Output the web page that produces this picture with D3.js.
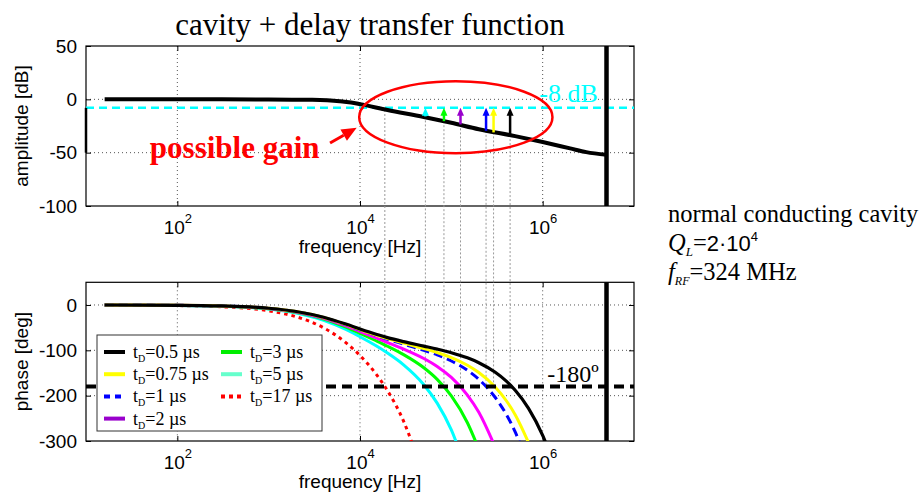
<!DOCTYPE html>
<html>
<head>
<meta charset="utf-8">
<script src="https://cdn.jsdelivr.net/npm/d3@7"></script>
<style>
  body { margin: 0; background: #fff; }
  svg { display: block; }
</style>
</head>
<body>
<svg id="chart" width="922" height="492"></svg>
<script>
// ---- data ----
var freqTicks = [1e2, 1e4, 1e6];
var ampTicks = [50, 0, -50, -100];
var phaseTicks = [0, -100, -200, -300];

// cavity amplitude response [Hz] -> [dB]
var ampFreq = [16, 100, 1000, 3000, 6000, 8000, 1e4, 2e4, 5e4, 1e5, 2e5, 5e5, 1e6, 2e6, 3e6, 5e6];
var ampDb   = [0, 0, -0.1, -0.5, -1.8, -3, -4.5, -10, -16.5, -22, -28, -34.5, -40, -46, -49.5, -52];

// phase of cavity + delay [Hz] -> [deg]
var phaseFreq = [16, 100, 300, 1e3, 2e3, 4e3, 7e3, 1e4, 1.5e4, 2e4, 3e4, 5e4, 7e4, 1e5, 1.5e5, 2e5, 3e5, 4e5, 5e5, 7e5, 1e6, 1.2e6];
var phase05  = [-0.1, -0.7, -2.2, -7.2, -14.3, -27.1, -42.2, -53, -64.6, -72, -80.8, -90.7, -97.3, -105.2, -116.6, -127.3, -147.9, -168, -188.1, -227.9, -287.5, -327.2];
var phase075 = [-0.1, -0.7, -2.2, -7.3, -14.5, -27.5, -42.9, -54.1, -66.2, -74.1, -84.1, -96.1, -104.8, -116, -132.8, -148.9, -180.3, -211.2, -242.1, -303.5];
var phase1   = [-0.1, -0.7, -2.2, -7.4, -14.7, -27.8, -43.5, -54.8, -67.3, -75.6, -86.3, -99.9, -110.1, -123.6, -144.1, -164, -203, -241.4, -279.9, -356.4];
var phase2   = [-0.1, -0.8, -2.3, -7.7, -15.4, -29.3, -46, -58.5, -72.8, -82.9, -97.3, -118.1, -135.6, -159.9, -198.7, -236.7, -312];
var phase3   = [-0.1, -0.8, -2.5, -8.2, -16.2, -30.9, -48.9, -62.5, -78.9, -91, -109.5, -138.4, -164, -200.6, -259.7, -318.1];
var phase5   = [-0.1, -0.9, -2.7, -8.9, -17.7, -33.9, -54.1, -70, -90.1, -106, -131.9, -175.8, -216.5, -275.5, -371.9];
var phase17  = [-0.2, -1.3, -3.9, -13, -26, -50.5, -83.1, -111.5, -152.3, -189, -256.3, -383];

var delays = ['0.5', '0.75', '1', '2', '3', '5', '17'];
var phases = [phase05, phase075, phase1, phase2, phase3, phase5, phase17];
var curveColors  = ['#000000', '#ffff00', '#0000ff', '#ff00ff', '#00ff00', '#00ffff', '#ff0000'];
var legendColors = ['#000000', '#ffff00', '#0000ff', '#9900cc', '#00ee00', '#66ffcc', '#ff0000'];
var dashes = [null, null, '9,5', null, null, null, '3.5,4'];

// -180 deg crossing of each delay, and the amplitude there
var crossFreq = [4.4e5, 2.9e5, 2.4e5, 1.26e5, 8.3e4, 5.2e4, 1.87e4];
var crossAmp  = [-33.5, -31, -29.5, -23.5, -20.5, -16, -10];
var arrowColors = ['#000000', '#ffff00', '#0000ff', '#9900cc', '#00ff00', '#00ffff'];

var gainLimit = -8;     // dB
var phaseLimit = -180;  // deg
var sampleLimit = 5e6;  // Hz

// ---- layout ----
var serif = '"Liberation Serif", "Times New Roman", serif';
var sans = '"Liberation Sans", Arial, Helvetica, sans-serif';
var left = 86, right = 634;
var svg = d3.select('#chart');

var x = d3.scaleLog().domain([10, 1e7]).range([left, right]);
var yA = d3.scaleLinear().domain([-100, 50]).range([206, 46]);
var yP = d3.scaleLinear().domain([-300, 50]).range([441, 282.3]);

svg.append('defs').selectAll('clipPath').data([['clipA', yA], ['clipP', yP]]).enter()
  .append('clipPath').attr('id', function(d){ return d[0]; })
  .append('rect')
  .attr('x', left).attr('width', right - left)
  .attr('y', function(d){ return d[1].range()[1]; })
  .attr('height', function(d){ return d[1].range()[0] - d[1].range()[1]; });

function frame(y, yTicks, gridY, label){
  var g = svg.append('g');
  var top = y.range()[1], bottom = y.range()[0];
  // dotted grid
  g.selectAll('line.gx').data(freqTicks).enter().append('line')
    .attr('x1', x).attr('x2', x).attr('y1', top).attr('y2', bottom)
    .attr('stroke', '#555').attr('stroke-width', 1).attr('stroke-dasharray', '1,3');
  g.selectAll('line.gy').data(gridY).enter().append('line')
    .attr('x1', left).attr('x2', right).attr('y1', y).attr('y2', y)
    .attr('stroke', '#555').attr('stroke-width', 1).attr('stroke-dasharray', '1,3');

  var ax = g.append('g').attr('transform', 'translate(0,' + bottom + ')')
    .call(d3.axisBottom(x).tickValues(freqTicks).tickSize(-5).tickPadding(14.5).tickFormat(function(){ return ''; }));
  ax.selectAll('.tick text').each(function(d){
    var t = d3.select(this);
    t.append('tspan').text('10');
    t.append('tspan').attr('dy', -11).attr('font-size', 13).text(Math.round(Math.log10(d)));
  });
  g.append('g').attr('transform', 'translate(0,' + top + ')')
    .call(d3.axisTop(x).tickValues(freqTicks).tickSize(-5).tickFormat(function(){ return ''; }));
  g.append('g').attr('transform', 'translate(' + left + ',0)')
    .call(d3.axisLeft(y).tickValues(yTicks).tickSize(-5).tickPadding(9).tickFormat(function(d){ return String(d); }));
  g.append('g').attr('transform', 'translate(' + right + ',0)')
    .call(d3.axisRight(y).tickValues(yTicks).tickSize(-5).tickFormat(function(){ return ''; }));
  g.selectAll('.domain').remove();
  g.selectAll('.tick line').attr('stroke', '#000');
  g.selectAll('.tick text').attr('font-family', sans).attr('font-size', 19).attr('fill', '#000');

  g.append('rect').attr('x', left).attr('y', top).attr('width', right - left).attr('height', bottom - top)
    .attr('fill', 'none').attr('stroke', '#000').attr('stroke-width', 1.2);

  g.append('text').attr('x', (left + right) / 2).attr('y', bottom + 47)
    .attr('text-anchor', 'middle').attr('font-family', sans).attr('font-size', 19)
    .text('frequency [Hz]');
  g.append('text').attr('transform', 'translate(28,' + ((top + bottom) / 2) + ') rotate(-90)')
    .attr('text-anchor', 'middle').attr('font-family', sans).attr('font-size', 19)
    .text(label);
  return g;
}

frame(yA, ampTicks, [0, -50], 'amplitude [dB]');
frame(yP, phaseTicks, [0, -100, -200], 'phase [deg]');

// title
svg.append('text').attr('x', 370).attr('y', 35).attr('text-anchor', 'middle')
  .attr('font-family', serif).attr('font-size', 31).text('cavity + delay transfer function');

// connecting lines between the two plots
svg.append('g').selectAll('line').data(crossFreq).enter().append('line')
  .attr('x1', function(d){ return x(d); }).attr('x2', function(d){ return x(d); })
  .attr('y1', function(d, i){ return yA(crossAmp[i]); })
  .attr('y2', yP(phaseLimit))
  .attr('stroke', '#999').attr('stroke-width', 1).attr('stroke-dasharray', '2,2');

// ---- amplitude plot ----
var gA = svg.append('g').attr('clip-path', 'url(#clipA)');
gA.append('line').attr('x1', left).attr('x2', right).attr('y1', yA(gainLimit)).attr('y2', yA(gainLimit))
  .attr('stroke', '#00ffff').attr('stroke-width', 2.5).attr('stroke-dasharray', '8,5');
var ampLine = d3.line().x(function(d){ return x(d[0]); }).y(function(d){ return yA(d[1]); }).curve(d3.curveMonotoneX);
gA.append('path').datum(ampFreq.map(function(f, i){ return [f, ampDb[i]]; }))
  .attr('d', ampLine).attr('fill', 'none').attr('stroke', '#000').attr('stroke-width', 4);
svg.append('line').attr('x1', left).attr('x2', left).attr('y1', yA(gainLimit)).attr('y2', yA(-50))
  .attr('stroke', '#000').attr('stroke-width', 2.5);

// gain margin arrows
var arrows = svg.append('g').selectAll('g').data(arrowColors).enter().append('g');
arrows.append('line')
  .attr('x1', function(d, i){ return x(crossFreq[i]); }).attr('x2', function(d, i){ return x(crossFreq[i]); })
  .attr('y1', function(d, i){ return yA(crossAmp[i]); }).attr('y2', yA(gainLimit) + 6)
  .attr('stroke', function(d){ return d; }).attr('stroke-width', 2.5);
arrows.append('path')
  .attr('d', function(d, i){
    var cx = x(crossFreq[i]), ty = yA(gainLimit);
    return 'M' + cx + ',' + ty + 'L' + (cx - 3.5) + ',' + (ty + 8) + 'L' + (cx + 3.5) + ',' + (ty + 8) + 'Z';
  })
  .attr('fill', function(d){ return d; });

// -8 dB label
svg.append('text').attr('x', x(9.2e5)).attr('y', yA(gainLimit) - 6)
  .attr('font-family', serif).attr('font-size', 26).attr('fill', '#00ffff').text('-8 dB');

// possible gain annotation
svg.append('ellipse')
  .attr('cx', (x(9.8e3) + x(1.28e6)) / 2).attr('cy', (yA(17) + yA(-50.5)) / 2)
  .attr('rx', (x(1.28e6) - x(9.8e3)) / 2).attr('ry', (yA(-50.5) - yA(17)) / 2)
  .attr('fill', 'none').attr('stroke', '#ff0000').attr('stroke-width', 2.5);
(function(){
  var x0 = x(4.7e3), y0 = yA(-41), x1 = x(9.2e3), y1 = yA(-26.6);
  var a = Math.atan2(y1 - y0, x1 - x0), L = 15, w = 6.5;
  var bx = x1 - L * Math.cos(a), by = y1 - L * Math.sin(a);
  svg.append('line').attr('x1', x0).attr('y1', y0).attr('x2', bx).attr('y2', by)
    .attr('stroke', '#ff0000').attr('stroke-width', 3);
  svg.append('path')
    .attr('d', 'M' + x1 + ',' + y1 +
      'L' + (bx + w * Math.sin(a)) + ',' + (by - w * Math.cos(a)) +
      'L' + (bx - w * Math.sin(a)) + ',' + (by + w * Math.cos(a)) + 'Z')
    .attr('fill', '#ff0000');
})();
svg.append('text').attr('x', x(50)).attr('y', yA(-55))
  .attr('font-family', serif).attr('font-size', 31).attr('font-weight', 'bold').attr('fill', '#ff0000')
  .text('possible gain');

// sampling limit line
svg.selectAll('line.lim').data([yA, yP]).enter().append('line')
  .attr('x1', x(sampleLimit)).attr('x2', x(sampleLimit))
  .attr('y1', function(y){ return y.range()[1]; }).attr('y2', function(y){ return y.range()[0]; })
  .attr('stroke', '#000').attr('stroke-width', 4.5);

// ---- phase plot ----
var gP = svg.append('g').attr('clip-path', 'url(#clipP)');
var phaseLine = d3.line().x(function(d){ return x(d[0]); }).y(function(d){ return yP(d[1]); }).curve(d3.curveMonotoneX);
var order = [6, 5, 4, 3, 2, 1, 0];
gP.selectAll('path.ph').data(order).enter().append('path')
  .attr('d', function(k){ return phaseLine(phases[k].map(function(v, i){ return [phaseFreq[i], v]; })); })
  .attr('fill', 'none')
  .attr('stroke', function(k){ return curveColors[k]; })
  .attr('stroke-width', function(k){ return k === 0 ? 3.2 : 3; })
  .attr('stroke-dasharray', function(k){ return dashes[k]; });
gP.append('line').attr('x1', left).attr('x2', right).attr('y1', yP(phaseLimit)).attr('y2', yP(phaseLimit))
  .attr('stroke', '#000').attr('stroke-width', 4).attr('stroke-dasharray', '10,6');
svg.append('text').attr('x', x(1.12e6)).attr('y', yP(phaseLimit) - 5)
  .attr('font-family', serif).attr('font-size', 24).text('-180\u00ba');

// legend
var lg = svg.append('g');
lg.append('rect').attr('x', 97).attr('y', 335).attr('width', 225).attr('height', 96)
  .attr('fill', '#fff').attr('stroke', '#333').attr('stroke-width', 1);
var items = lg.selectAll('g.item').data(delays).enter().append('g')
  .attr('transform', function(d, i){
    var col = i < 4 ? 0 : 1, row = i < 4 ? i : i - 4;
    return 'translate(' + (col ? 221 : 104) + ',' + (352 + row * 22.2) + ')';
  });
items.append('line').attr('x1', 0).attr('x2', 21).attr('y1', 0).attr('y2', 0)
  .attr('stroke', function(d, i){ return legendColors[i]; }).attr('stroke-width', 4)
  .attr('stroke-dasharray', function(d, i){ return i === 2 ? '6,5' : (i === 6 ? '4,4' : null); });
var lt = items.append('text').attr('x', 29).attr('y', 6).attr('font-family', serif).attr('font-size', 18);
lt.append('tspan').text('t');
lt.append('tspan').attr('dy', 4).attr('font-size', 10).text('D');
lt.append('tspan').attr('dy', -4).text(function(d){ return '=' + d + ' \u00b5s'; });

// cavity parameters
var info = svg.append('g').attr('font-family', serif).attr('font-size', 24.5);
info.append('text').attr('x', 668).attr('y', 222).text('normal conducting cavity');
var q = info.append('text').attr('x', 668).attr('y', 251);
q.append('tspan').attr('font-style', 'italic').text('Q');
q.append('tspan').attr('font-style', 'italic').attr('font-size', 13).attr('dy', 5).text('L');
q.append('tspan').attr('dy', -5).text('=');
q.append('tspan').attr('font-family', sans).attr('font-size', 22).text('2\u00b710');
q.append('tspan').attr('font-family', sans).attr('font-size', 13).attr('dy', -10).text('4');
var fr = info.append('text').attr('x', 668).attr('y', 280);
fr.append('tspan').attr('font-style', 'italic').text('f');
fr.append('tspan').attr('font-style', 'italic').attr('font-size', 12).attr('dy', 5).text('RF');
fr.append('tspan').attr('dy', -5).text('=324 MHz');
</script>
</body>
</html>
